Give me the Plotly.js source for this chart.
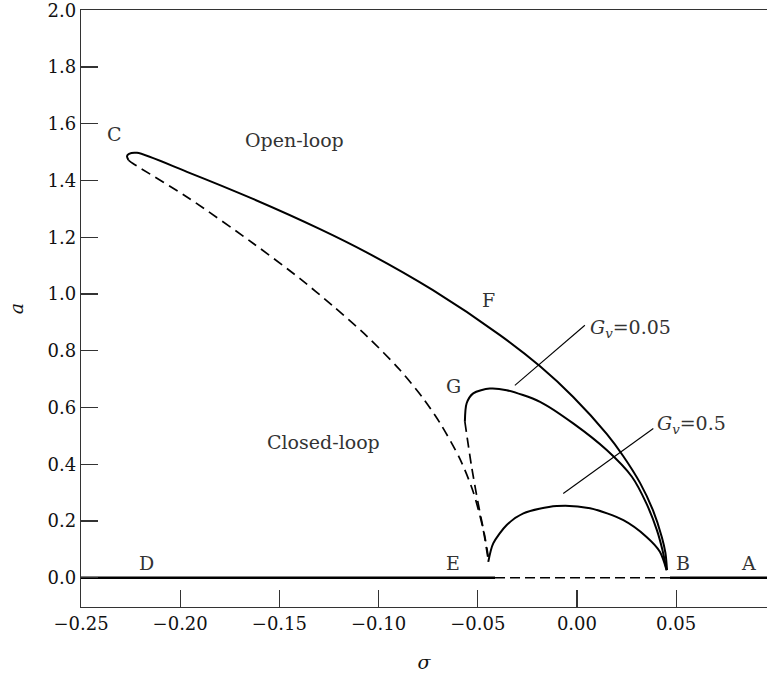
<!DOCTYPE html>
<html>
<head>
<meta charset="utf-8">
<script src="https://cdn.plot.ly/plotly-3.0.1.min.js"></script>
<style>html,body{margin:0;padding:0;background:#fff;}#chart{width:767px;height:674px;}</style>
</head>
<body>
<div id="chart"></div>
<script>
// ---- data (sigma, a) ----
const openSolidX = [-0.2261, -0.2268, -0.2258, -0.2218, -0.1966, -0.1633, -0.1295, -0.1058, -0.0726, -0.0388, -0.0186, -0.0020, 0.0151, 0.0232, 0.0318, 0.0383, 0.0428, 0.0446, 0.0454];
const openSolidY = [1.472, 1.486, 1.494, 1.4975, 1.4306, 1.3351, 1.2287, 1.1459, 1.0134, 0.8552, 0.7452, 0.6381, 0.5063, 0.4302, 0.3344, 0.2382, 0.1431, 0.0874, 0.0271];

const openDashX = [-0.2261, -0.2238, -0.1966, -0.1633, -0.1396, -0.1230, -0.1058, -0.0892, -0.0776, -0.0691, -0.0590, -0.0524, -0.0474, -0.0449];
const openDashY = [1.472, 1.460, 1.342, 1.179, 1.054, 0.958, 0.851, 0.732, 0.633, 0.546, 0.419, 0.305, 0.174, 0.070];

const gv005SolidX = [-0.0565, -0.0556, -0.0523, -0.0439, -0.0354, -0.0186, -0.0019, 0.0150, 0.0277, 0.0350, 0.0403, 0.0431, 0.0452];
const gv005SolidY = [0.550, 0.615, 0.650, 0.667, 0.661, 0.620, 0.544, 0.450, 0.356, 0.262, 0.168, 0.098, 0.027];

const gv005DashX = [-0.0565, -0.0531, -0.0498, -0.0464, -0.0447];
const gv005DashY = [0.550, 0.391, 0.262, 0.144, 0.074];

const gv05SolidX = [-0.0447, -0.0422, -0.0354, -0.0270, -0.0102, 0.0066, 0.0234, 0.0351, 0.0418, 0.0452];
const gv05SolidY = [0.056, 0.121, 0.186, 0.227, 0.253, 0.245, 0.203, 0.144, 0.092, 0.027];

const trivialLeftX = [-0.25, -0.0413];
const trivialLeftY = [0, 0];
const trivialMidX = [-0.0413, 0.0469];
const trivialMidY = [0, 0];
const trivialRightX = [0.0469, 0.0958];
const trivialRightY = [0, 0];

const leader005X = [-0.0313, 0.0040];
const leader005Y = [0.678, 0.890];
const leader05X = [-0.0069, 0.0385];
const leader05Y = [0.297, 0.526];

const xTicks = [-0.25, -0.20, -0.15, -0.10, -0.05, 0.00, 0.05];
const yTicks = [0.0, 0.2, 0.4, 0.6, 0.8, 1.0, 1.2, 1.4, 1.6, 1.8, 2.0];

const labelText = ['C', 'Open-loop', 'F', 'G', 'Closed-loop', 'D', 'E', 'B', 'A'];
const labelX = [-0.2329, -0.1425, -0.0447, -0.0623, -0.1280, -0.2169, -0.0623, 0.0536, 0.0863];
const labelY = [1.565, 1.542, 0.978, 0.676, 0.478, 0.053, 0.053, 0.053, 0.053];

const gvText = ['<i>G</i><sub><i>v</i></sub>=0.05', '<i>G</i><sub><i>v</i></sub>=0.5'];
const gvX = [0.0055, 0.0393];
const gvY = [0.890, 0.550];

// ---- drawing ----
const FONT = 'DejaVu Serif, Liberation Serif, serif';
function tr(x, y, w, dash, shape) {
  return {x: x, y: y, type: 'scatter', mode: 'lines', hoverinfo: 'skip',
    line: {color: '#000', width: w, dash: dash || 'solid', shape: shape || 'spline', smoothing: 0.8}};
}
const data = [
  tr(openSolidX, openSolidY, 2),
  tr(openDashX, openDashY, 1.7, '10px,6px'),
  tr(gv005SolidX, gv005SolidY, 2),
  tr(gv005DashX, gv005DashY, 1.7, '10px,6px'),
  tr(gv05SolidX, gv05SolidY, 2),
  tr(trivialLeftX, trivialLeftY, 2.6, 'solid', 'linear'),
  tr(trivialMidX, trivialMidY, 1.7, '10px,5px', 'linear'),
  tr(trivialRightX, trivialRightY, 2.6, 'solid', 'linear'),
  tr(leader005X, leader005Y, 1.1, 'solid', 'linear'),
  tr(leader05X, leader05Y, 1.1, 'solid', 'linear')
];

const annotations = [];
for (let i = 0; i < labelText.length; i++) {
  annotations.push({x: labelX[i], y: labelY[i], xref: 'x', yref: 'y', text: labelText[i],
    showarrow: false, xanchor: 'center', yanchor: 'middle',
    font: {family: FONT, size: 19, color: '#333'}});
}
for (let i = 0; i < gvText.length; i++) {
  annotations.push({x: gvX[i], y: gvY[i], xref: 'x', yref: 'y', text: gvText[i],
    showarrow: false, xanchor: 'left', yanchor: 'middle', yshift: -3,
    font: {family: FONT, size: 19, color: '#333'}});
}

const layout = {
  width: 767, height: 674,
  margin: {l: 81, r: 0, t: 10, b: 67},
  paper_bgcolor: '#fff', plot_bgcolor: '#fff',
  showlegend: false,
  font: {family: FONT, size: 18, color: '#111'},
  xaxis: {
    range: [-0.25, 0.0958], tickvals: xTicks, tickformat: '.2f',
    showline: true, mirror: true, linecolor: '#333', linewidth: 1.3,
    ticks: 'inside', ticklen: 17, tickwidth: 1.2, tickcolor: '#333',
    showgrid: false, zeroline: false, automargin: false, ticklabeloverflow: 'allow',
    tickfont: {family: FONT, size: 18, color: '#111'},
    title: {text: '<i>σ</i>', font: {family: FONT, size: 19, color: '#111'}, standoff: 22}
  },
  yaxis: {
    range: [-0.103, 2.0008], tickvals: yTicks, tickformat: '.1f',
    showline: true, mirror: false, linecolor: '#333', linewidth: 1.3,
    ticks: 'inside', ticklen: 17, tickwidth: 1.2, tickcolor: '#333',
    showgrid: false, zeroline: false, automargin: false, ticklabeloverflow: 'allow',
    tickfont: {family: FONT, size: 18, color: '#111'},
    title: {text: '<i>a</i>', font: {family: FONT, size: 19, color: '#111'}, standoff: 18}
  },
  annotations: annotations
};

Plotly.newPlot('chart', data, layout, {displayModeBar: false, staticPlot: true});
</script>
</body>
</html>
